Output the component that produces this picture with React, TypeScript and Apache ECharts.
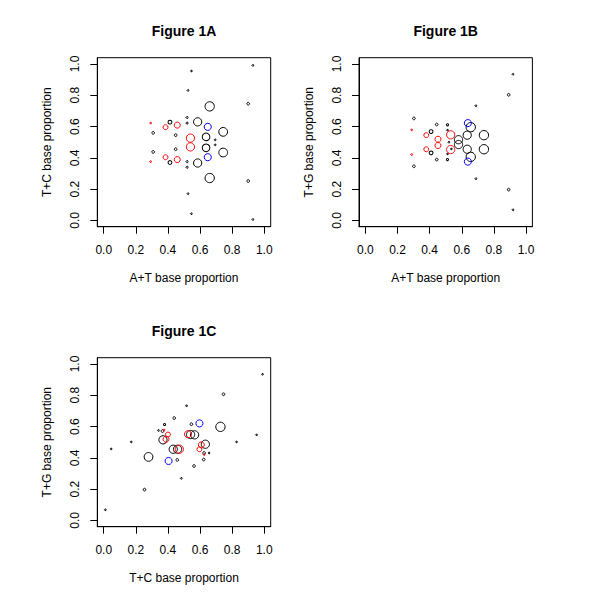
import React, { useEffect, useRef } from "react";
import * as echarts from "echarts";

const tickValues = [0, 0.2, 0.4, 0.6, 0.8, 1.0];
const titles = ["Figure 1A", "Figure 1B", "Figure 1C"];
const xNames = ["A+T base proportion", "A+T base proportion", "T+C base proportion"];
const yNames = ["T+C base proportion", "T+G base proportion", "T+G base proportion"];

// each point: [x proportion, y proportion, relative weight]
const aBlack = [
  [0.546, 0.955, 1], [0.525, 0.831, 1], [0.929, 0.991, 1], [0.9, 0.746, 2], [0.66, 0.729, 8],
  [0.308, 0.56, 2], [0.4125, 0.628, 3], [0.448, 0.545, 2], [0.519, 0.658, 1.3], [0.519, 0.622, 1.3],
  [0.585, 0.63, 7], [0.6375, 0.534, 6.5], [0.6375, 0.464, 6.5], [0.694, 0.515, 1], [0.694, 0.483, 1],
  [0.744, 0.566, 7.5], [0.744, 0.434, 7.5], [0.308, 0.438, 2], [0.4125, 0.37, 3], [0.448, 0.455, 2],
  [0.519, 0.376, 1.3], [0.519, 0.34, 1.3], [0.585, 0.367, 7], [0.66, 0.271, 8], [0.9, 0.252, 2],
  [0.525, 0.171, 1], [0.546, 0.043, 1], [0.929, 0.006, 1],
];
const aRed = [
  [0.292, 0.622, 1], [0.385, 0.596, 4], [0.458, 0.609, 5], [0.54, 0.526, 7],
  [0.54, 0.47, 7], [0.292, 0.376, 1], [0.385, 0.404, 4], [0.458, 0.389, 5],
];
const aBlue = [[0.648, 0.598, 6], [0.648, 0.404, 6]];

const bBlack = [
  [0.919, 0.934, 1], [0.892, 0.803, 2], [0.688, 0.733, 1], [0.302, 0.652, 2], [0.409, 0.568, 3],
  [0.444, 0.613, 2], [0.511, 0.611, 1.5], [0.511, 0.577, 1], [0.52, 0.5, 1], [0.535, 0.457, 1],
  [0.58, 0.516, 7], [0.58, 0.485, 7], [0.634, 0.545, 7], [0.634, 0.455, 7], [0.656, 0.596, 8],
  [0.656, 0.406, 8], [0.738, 0.545, 8], [0.738, 0.455, 8], [0.409, 0.432, 3], [0.511, 0.425, 1],
  [0.444, 0.389, 2], [0.511, 0.389, 1.5], [0.302, 0.346, 2], [0.688, 0.267, 1], [0.892, 0.197, 2],
  [0.919, 0.068, 1],
];
const bRed = [
  [0.288, 0.579, 1], [0.379, 0.545, 4], [0.452, 0.519, 5], [0.531, 0.547, 7],
  [0.531, 0.453, 7], [0.452, 0.479, 5], [0.379, 0.455, 4], [0.288, 0.421, 1],
];
const bBlue = [[0.638, 0.622, 6], [0.638, 0.376, 6]];

const cBlack = [
  [0.989, 0.934, 1], [0.746, 0.806, 2], [0.516, 0.733, 1], [0.439, 0.654, 2], [0.546, 0.615, 2],
  [0.727, 0.598, 8], [0.379, 0.613, 1.5], [0.341, 0.575, 1], [0.366, 0.571, 2], [0.369, 0.515, 7],
  [0.541, 0.549, 7], [0.566, 0.547, 7], [0.171, 0.502, 1], [0.046, 0.457, 1], [0.279, 0.406, 7.5],
  [0.433, 0.455, 7], [0.46, 0.455, 7], [0.633, 0.487, 7], [0.625, 0.431, 2], [0.656, 0.431, 1],
  [0.623, 0.389, 2], [0.458, 0.387, 2], [0.5625, 0.348, 2], [0.483, 0.269, 1], [0.827, 0.502, 1],
  [0.952, 0.547, 1], [0.254, 0.197, 2], [0.01, 0.068, 1],
];
const cRed = [
  [0.4, 0.549, 4], [0.388, 0.519, 5], [0.525, 0.551, 6], [0.471, 0.455, 7],
  [0.608, 0.483, 5], [0.596, 0.455, 4], [0.625, 0.421, 1], [0.376, 0.578, 1],
];
const cBlue = [[0.596, 0.62, 6], [0.404, 0.38, 6]];

const panelData = [
  { black: aBlack, red: aRed, blue: aBlue },
  { black: bBlack, red: bRed, blue: bBlue },
  { black: cBlack, red: cRed, blue: cBlue },
];

const FONT = '"Liberation Sans", Arial, Helvetica, sans-serif';
const layout = [
  { left: 97.3, top: 57.7 },
  { left: 359, top: 57.7 },
  { left: 97.3, top: 357.7 },
];
const W = 173.4;
const H = 169;

export default function App() {
  const ref = useRef<HTMLDivElement>(null);
  useEffect(() => {
    if (!ref.current) return;
    const chart = echarts.init(ref.current, null, { renderer: "svg" });
    const grids: any[] = [];
    const xAxes: any[] = [];
    const yAxes: any[] = [];
    const series: any[] = [];
    const graphics: any[] = [];
    layout.forEach((p, i) => {
      grids.push({
        left: p.left, top: p.top, width: W, height: H,
        show: true, borderColor: "#000", borderWidth: 1, backgroundColor: "transparent",
      });
      const common = {
        type: "value", gridIndex: i, min: -0.04, max: 1.04,
        splitLine: { show: false },
        axisLine: { show: true, onZero: false, lineStyle: { color: "#000", width: 1 } },
        axisTick: { show: true, customValues: tickValues, length: 7, inside: false, lineStyle: { color: "#000", width: 1 } },
        nameLocation: "middle",
        nameTextStyle: { fontFamily: FONT, fontSize: 12, color: "#000" },
      };
      xAxes.push({
        ...common,
        name: xNames[i],
        nameGap: 45,
        axisLabel: {
          customValues: tickValues, margin: 17, fontFamily: FONT, fontSize: 12, color: "#000",
          formatter: (v: number) => v.toFixed(1),
        },
      });
      yAxes.push({
        ...common,
        name: yNames[i],
        nameGap: 44,
        axisLabel: {
          customValues: tickValues, margin: 16, rotate: 90, fontFamily: FONT, fontSize: 12, color: "#000",
          formatter: (v: number) => v.toFixed(1),
        },
      });
      const d = panelData[i];
      ([["black", "#000000"], ["red", "#ff0000"], ["blue", "#0000ff"]] as [string, string][]).forEach(([k, col]) => {
        series.push({
          type: "scatter",
          xAxisIndex: i, yAxisIndex: i,
          data: (d as any)[k],
          symbol: "circle",
          symbolSize: (v: number[]) => 0.5 + 1.1 * v[2],
          itemStyle: { color: "rgba(0,0,0,0)", borderColor: col, borderWidth: 1, opacity: 1 },
          emphasis: { disabled: true },
          silent: true,
        });
      });
      graphics.push({
        type: "text",
        x: p.left + W / 2,
        y: p.top - 27,
        style: {
          text: titles[i], fill: "#000", fontFamily: FONT, fontSize: 14, fontWeight: "bold",
          textAlign: "center", textVerticalAlign: "middle",
        },
      });
    });
    chart.setOption({
      animation: false,
      backgroundColor: "#fff",
      grid: grids,
      xAxis: xAxes,
      yAxis: yAxes,
      series,
      graphic: graphics,
    });
    return () => chart.dispose();
  }, []);
  return <div ref={ref} style={{ position: "fixed", left: 0, top: 0, width: 600, height: 600 }} />;
}
